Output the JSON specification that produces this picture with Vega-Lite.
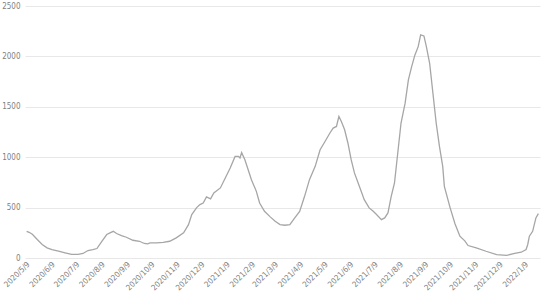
{
  "$schema": "https://vega.github.io/schema/vega-lite/v6.json",
  "autosize": {"type": "none"},
  "width": 515,
  "height": 252,
  "padding": {"left": 25, "top": 6, "right": 10, "bottom": 37},
  "background": "white",
  "config": {
    "view": {"stroke": null},
    "font": "'Liberation Sans Narrow', 'DejaVu Sans Condensed', 'Liberation Sans', sans-serif"
  },
  "data": {"values": [
    {"date": "2020-05-07", "v": 265},
    {"date": "2020-05-10", "v": 255},
    {"date": "2020-05-14", "v": 235},
    {"date": "2020-05-20", "v": 183},
    {"date": "2020-05-26", "v": 134},
    {"date": "2020-06-01", "v": 101},
    {"date": "2020-06-07", "v": 84},
    {"date": "2020-06-15", "v": 67},
    {"date": "2020-06-23", "v": 51},
    {"date": "2020-07-01", "v": 35},
    {"date": "2020-07-09", "v": 35},
    {"date": "2020-07-15", "v": 45},
    {"date": "2020-07-21", "v": 74},
    {"date": "2020-07-27", "v": 84},
    {"date": "2020-08-01", "v": 94},
    {"date": "2020-08-07", "v": 166},
    {"date": "2020-08-13", "v": 233},
    {"date": "2020-08-17", "v": 250},
    {"date": "2020-08-21", "v": 265},
    {"date": "2020-08-25", "v": 243},
    {"date": "2020-08-31", "v": 223},
    {"date": "2020-09-06", "v": 206},
    {"date": "2020-09-14", "v": 176},
    {"date": "2020-09-22", "v": 166},
    {"date": "2020-09-28", "v": 144},
    {"date": "2020-10-02", "v": 140},
    {"date": "2020-10-05", "v": 150},
    {"date": "2020-10-13", "v": 150},
    {"date": "2020-10-21", "v": 156},
    {"date": "2020-10-29", "v": 166},
    {"date": "2020-11-06", "v": 200},
    {"date": "2020-11-15", "v": 250},
    {"date": "2020-11-21", "v": 331},
    {"date": "2020-11-25", "v": 430},
    {"date": "2020-12-01", "v": 500},
    {"date": "2020-12-05", "v": 530},
    {"date": "2020-12-09", "v": 546},
    {"date": "2020-12-13", "v": 606},
    {"date": "2020-12-18", "v": 586},
    {"date": "2020-12-22", "v": 646},
    {"date": "2020-12-30", "v": 695},
    {"date": "2021-01-05", "v": 794},
    {"date": "2021-01-11", "v": 893},
    {"date": "2021-01-17", "v": 1008},
    {"date": "2021-01-21", "v": 1008},
    {"date": "2021-01-23", "v": 992},
    {"date": "2021-01-25", "v": 1045},
    {"date": "2021-01-29", "v": 975},
    {"date": "2021-02-02", "v": 876},
    {"date": "2021-02-06", "v": 777},
    {"date": "2021-02-12", "v": 661},
    {"date": "2021-02-16", "v": 546},
    {"date": "2021-02-22", "v": 463},
    {"date": "2021-03-01", "v": 408},
    {"date": "2021-03-07", "v": 364},
    {"date": "2021-03-13", "v": 331},
    {"date": "2021-03-19", "v": 325},
    {"date": "2021-03-25", "v": 331},
    {"date": "2021-03-31", "v": 398},
    {"date": "2021-04-06", "v": 463},
    {"date": "2021-04-12", "v": 612},
    {"date": "2021-04-18", "v": 777},
    {"date": "2021-04-25", "v": 909},
    {"date": "2021-05-01", "v": 1074},
    {"date": "2021-05-07", "v": 1156},
    {"date": "2021-05-13", "v": 1240},
    {"date": "2021-05-17", "v": 1289},
    {"date": "2021-05-21", "v": 1305},
    {"date": "2021-05-24", "v": 1404},
    {"date": "2021-05-27", "v": 1355},
    {"date": "2021-05-31", "v": 1272},
    {"date": "2021-06-04", "v": 1141},
    {"date": "2021-06-08", "v": 975},
    {"date": "2021-06-12", "v": 844},
    {"date": "2021-06-18", "v": 711},
    {"date": "2021-06-24", "v": 579},
    {"date": "2021-06-30", "v": 497},
    {"date": "2021-07-05", "v": 463},
    {"date": "2021-07-09", "v": 431},
    {"date": "2021-07-15", "v": 381},
    {"date": "2021-07-19", "v": 398},
    {"date": "2021-07-23", "v": 447},
    {"date": "2021-07-27", "v": 612},
    {"date": "2021-07-31", "v": 744},
    {"date": "2021-08-04", "v": 1042},
    {"date": "2021-08-08", "v": 1339},
    {"date": "2021-08-13", "v": 1536},
    {"date": "2021-08-17", "v": 1767},
    {"date": "2021-08-21", "v": 1899},
    {"date": "2021-08-25", "v": 2015},
    {"date": "2021-08-29", "v": 2097},
    {"date": "2021-09-01", "v": 2213},
    {"date": "2021-09-05", "v": 2203},
    {"date": "2021-09-08", "v": 2097},
    {"date": "2021-09-12", "v": 1932},
    {"date": "2021-09-16", "v": 1635},
    {"date": "2021-09-20", "v": 1339},
    {"date": "2021-09-24", "v": 1107},
    {"date": "2021-09-28", "v": 909},
    {"date": "2021-09-30", "v": 711},
    {"date": "2021-10-07", "v": 500},
    {"date": "2021-10-13", "v": 340},
    {"date": "2021-10-19", "v": 216},
    {"date": "2021-10-25", "v": 170},
    {"date": "2021-10-29", "v": 124},
    {"date": "2021-11-08", "v": 101},
    {"date": "2021-11-20", "v": 67},
    {"date": "2021-12-03", "v": 33},
    {"date": "2021-12-15", "v": 26},
    {"date": "2021-12-25", "v": 45},
    {"date": "2022-01-02", "v": 57},
    {"date": "2022-01-08", "v": 84},
    {"date": "2022-01-10", "v": 134},
    {"date": "2022-01-12", "v": 216},
    {"date": "2022-01-16", "v": 265},
    {"date": "2022-01-20", "v": 398},
    {"date": "2022-01-23", "v": 440}
  ]},
  "mark": {"type": "line", "color": "#a6a6a6", "strokeWidth": 1.3},
  "encoding": {
    "x": {
      "field": "date",
      "type": "temporal",
      "scale": {
        "type": "utc",
        "domain": [
          {"year": 2020, "month": 5, "date": 5, "utc": true},
          {"year": 2022, "month": 1, "date": 25, "utc": true}
        ]
      },
      "axis": {
        "title": null,
        "grid": false,
        "domain": false,
        "ticks": false,
        "labelAngle": -45,
        "labelAlign": "right",
        "labelBaseline": "middle",
        "labelPadding": 5,
        "labelFontSize": 8,
        "labelColor": "#7f7f7f",
        "labelOverlap": false,
        "format": "%Y/%-m/%-d",
        "values": [
          {"year": 2020, "month": 5, "date": 9, "utc": true},
          {"year": 2020, "month": 6, "date": 9, "utc": true},
          {"year": 2020, "month": 7, "date": 9, "utc": true},
          {"year": 2020, "month": 8, "date": 9, "utc": true},
          {"year": 2020, "month": 9, "date": 9, "utc": true},
          {"year": 2020, "month": 10, "date": 9, "utc": true},
          {"year": 2020, "month": 11, "date": 9, "utc": true},
          {"year": 2020, "month": 12, "date": 9, "utc": true},
          {"year": 2021, "month": 1, "date": 9, "utc": true},
          {"year": 2021, "month": 2, "date": 9, "utc": true},
          {"year": 2021, "month": 3, "date": 9, "utc": true},
          {"year": 2021, "month": 4, "date": 9, "utc": true},
          {"year": 2021, "month": 5, "date": 9, "utc": true},
          {"year": 2021, "month": 6, "date": 9, "utc": true},
          {"year": 2021, "month": 7, "date": 9, "utc": true},
          {"year": 2021, "month": 8, "date": 9, "utc": true},
          {"year": 2021, "month": 9, "date": 9, "utc": true},
          {"year": 2021, "month": 10, "date": 9, "utc": true},
          {"year": 2021, "month": 11, "date": 9, "utc": true},
          {"year": 2021, "month": 12, "date": 9, "utc": true},
          {"year": 2022, "month": 1, "date": 9, "utc": true}
        ]
      }
    },
    "y": {
      "field": "v",
      "type": "quantitative",
      "scale": {"domain": [0, 2500], "nice": false},
      "axis": {
        "title": null,
        "values": [0, 500, 1000, 1500, 2000, 2500],
        "format": "d",
        "domain": false,
        "ticks": false,
        "labelPadding": 5,
        "labelFontSize": 8,
        "labelColor": "#7f7f7f",
        "gridColor": "#e8e8e8",
        "gridWidth": 1
      }
    }
  }
}
